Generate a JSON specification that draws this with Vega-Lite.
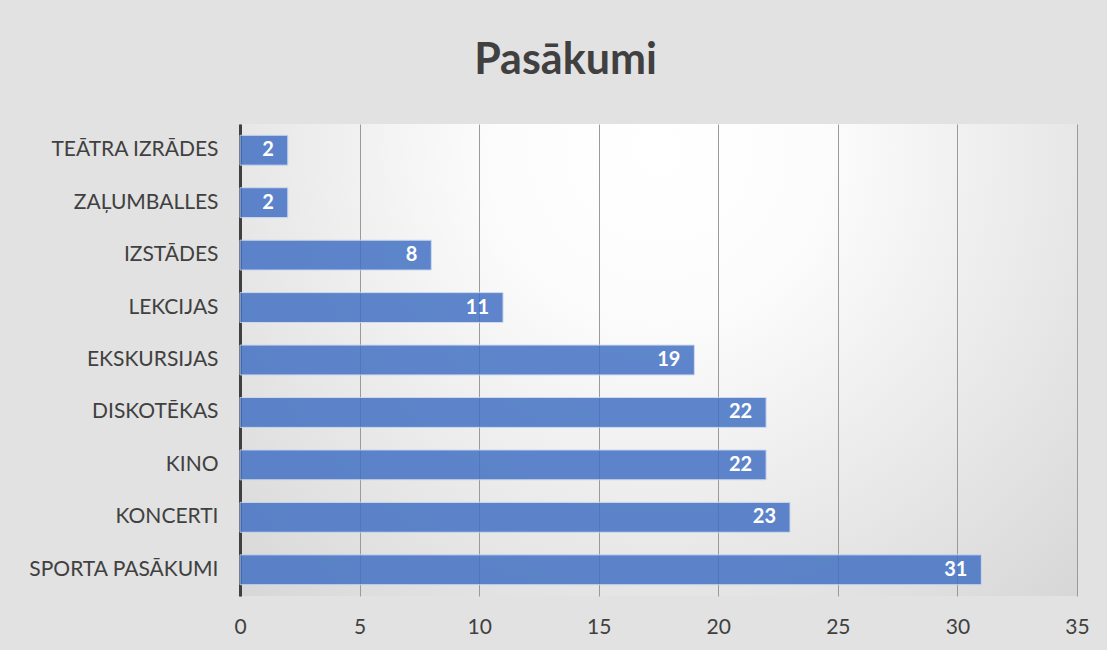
{
  "$schema": "https://vega.github.io/schema/vega-lite/v6.json",
  "width": 837,
  "height": 472,
  "autosize": {"type": "none"},
  "padding": {"left": 240, "top": 124, "right": 30, "bottom": 54},
  "background": "#e2e2e2",
  "title": {
    "text": "Pasākumi",
    "font": "Lato",
    "fontSize": 43,
    "fontWeight": "bold",
    "color": "#404040",
    "anchor": "middle",
    "frame": "group",
    "dx": -93,
    "offset": 41
  },
  "config": {
    "view": {
      "stroke": null,
      "fill": {
        "gradient": "radial",
        "x1": 0.5, "y1": 0.25, "x2": 0.5, "y2": 0.25,
        "r1": 0, "r2": 0.8,
        "stops": [
          {"offset": 0, "color": "#ffffff"},
          {"offset": 0.25, "color": "#fcfcfc"},
          {"offset": 1, "color": "#d2d2d2"}
        ]
      }
    },
    "font": "Lato"
  },
  "data": {
    "values": [
      {"pasakums": "TEĀTRA IZRĀDES", "skaits": 2},
      {"pasakums": "ZAĻUMBALLES", "skaits": 2},
      {"pasakums": "IZSTĀDES", "skaits": 8},
      {"pasakums": "LEKCIJAS", "skaits": 11},
      {"pasakums": "EKSKURSIJAS", "skaits": 19},
      {"pasakums": "DISKOTĒKAS", "skaits": 22},
      {"pasakums": "KINO", "skaits": 22},
      {"pasakums": "KONCERTI", "skaits": 23},
      {"pasakums": "SPORTA PASĀKUMI", "skaits": 31}
    ]
  },
  "encoding": {
    "y": {
      "field": "pasakums",
      "type": "nominal",
      "sort": null,
      "scale": {"paddingInner": 0.43, "paddingOuter": 0.215},
      "axis": {
        "title": null,
        "ticks": false,
        "domain": true,
        "domainColor": "#404040",
        "domainWidth": 3,
        "labelFont": "Lato",
        "labelFontSize": 21,
        "labelColor": "#404040",
        "labelPadding": 22,
        "labelLimit": 400,
        "grid": false
      }
    },
    "x": {
      "field": "skaits",
      "type": "quantitative",
      "scale": {"domain": [0, 35], "nice": false},
      "axis": {
        "title": null,
        "values": [0, 5, 10, 15, 20, 25, 30, 35],
        "ticks": false,
        "domain": false,
        "grid": true,
        "gridColor": "#9a9a9a",
        "gridWidth": 1,
        "labelFont": "Lato",
        "labelFontSize": 21,
        "labelColor": "#404040",
        "labelPadding": 20,
        "labelFlush": false,
        "labelOverlap": false
      }
    }
  },
  "layer": [
    {
      "mark": {
        "type": "bar",
        "color": "#4472c4",
        "opacity": 0.85,
        "stroke": "#c9d6ef",
        "strokeWidth": 1
      }
    },
    {
      "mark": {
        "type": "text",
        "align": "right",
        "baseline": "middle",
        "dx": -14,
        "color": "#ffffff",
        "font": "Lato",
        "fontSize": 20,
        "fontWeight": "bold"
      },
      "encoding": {"text": {"field": "skaits", "type": "quantitative"}}
    }
  ]
}
